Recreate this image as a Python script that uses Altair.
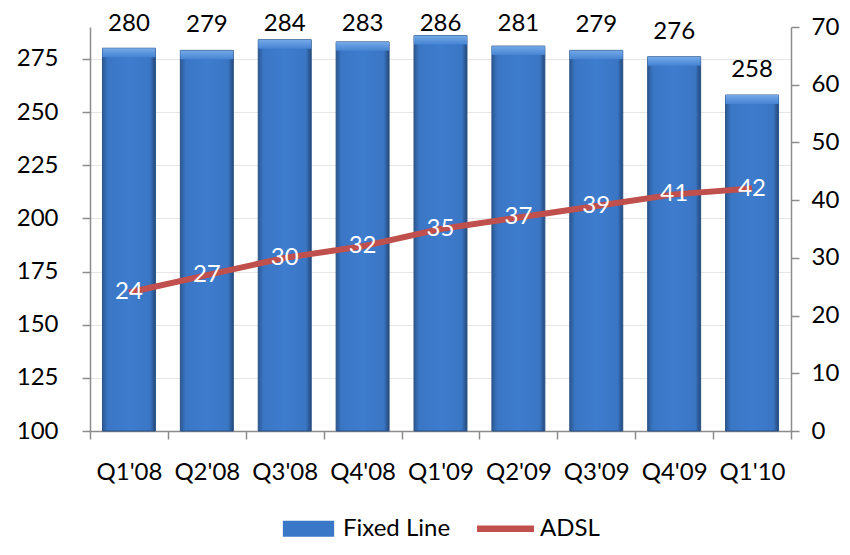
import altair as alt
import pandas as pd

quarters = ["Q1'08", "Q2'08", "Q3'08", "Q4'08", "Q1'09", "Q2'09", "Q3'09", "Q4'09", "Q1'10"]
fixed_line = [280, 279, 284, 283, 286, 281, 279, 276, 258]
adsl = [24, 27, 30, 32, 35, 37, 39, 41, 42]
left_ticks = [100, 125, 150, 175, 200, 225, 250, 275]
right_ticks = [0, 10, 20, 30, 40, 50, 60, 70]
series_names = ["Fixed Line", "ADSL"]
series_colors = ["#3b77c7", "#c0504d"]

df = pd.DataFrame({"q": quarters, "fixed": fixed_line, "adsl": adsl})
leg_df = pd.DataFrame({"s": series_names})

FONT = "Lato"
FS = 24
AX = "#8c8c8c"
BAR_W = alt.RelativeBandSize(0.68)

x_enc = alt.X("q:N", sort=quarters, title=None,
              scale=alt.Scale(paddingInner=0, paddingOuter=0),
              axis=alt.Axis(labelAngle=0, tickBand="extent", tickSize=8, tickColor=AX,
                            domainColor=AX, domainWidth=1.5, tickWidth=1.5,
                            labelFontSize=FS, labelFont=FONT, labelColor="#000",
                            labelPadding=21))

yL = alt.Y("fixed:Q", title=None,
           scale=alt.Scale(domain=[100, 290], zero=False, nice=False),
           axis=alt.Axis(values=left_ticks, tickSize=8, tickColor=AX, tickWidth=1.5,
                         domainColor=AX, domainWidth=1.5, grid=True, gridColor="#e6e6e6",
                         gridWidth=1.2, labelFontSize=FS, labelFont=FONT,
                         labelColor="#000", labelPadding=24))

bar_grad = alt.Gradient(
    gradient="linear", x1=0, x2=1, y1=0, y2=0,
    stops=[alt.GradientStop(color="#2a5893", offset=0),
           alt.GradientStop(color="#3a76c4", offset=0.1),
           alt.GradientStop(color="#3e7cce", offset=0.5),
           alt.GradientStop(color="#3a76c4", offset=0.9),
           alt.GradientStop(color="#24497a", offset=1)])

top_grad = alt.Gradient(
    gradient="linear", x1=0, x2=0, y1=0, y2=1,
    stops=[alt.GradientStop(color="#76aae8", offset=0),
           alt.GradientStop(color="#4583d2", offset=1)])

base = alt.Chart(df)

bars = base.mark_bar(color=bar_grad, stroke="#2b5286", strokeWidth=1, width=BAR_W).encode(
    x=x_enc, y=yL, y2=alt.datum(100))

bevel = base.transform_calculate(top2="datum.fixed - 4.2").mark_bar(
    color=top_grad, width=BAR_W).encode(
    x=alt.X("q:N", sort=quarters), y=alt.Y("fixed:Q"), y2=alt.Y2("top2:Q"))

bar_text = base.transform_calculate(ly="min(datum.fixed + 8.5, 288)").mark_text(
    baseline="alphabetic", fontSize=FS, font=FONT, color="#000").encode(
    x=alt.X("q:N", sort=quarters), y=alt.Y("ly:Q"), text=alt.Text("fixed:Q"))

left = alt.layer(bars, bevel, bar_text)

yR = alt.Y("adsl:Q", title=None,
           scale=alt.Scale(domain=[0, 70], nice=False),
           axis=alt.Axis(orient="right", values=right_ticks, tickSize=8, tickColor=AX,
                         tickWidth=1.5, domainColor=AX, domainWidth=1.5, grid=False,
                         labelFontSize=FS, labelFont=FONT, labelColor="#000",
                         labelPadding=12))

line = base.mark_line(color="#c0504d", strokeWidth=6).encode(
    x=alt.X("q:N", sort=quarters), y=yR)

line_text = base.mark_text(baseline="middle", fontSize=FS, font=FONT, color="#ffffff").encode(
    x=alt.X("q:N", sort=quarters), y=alt.Y("adsl:Q"), text=alt.Text("adsl:Q"))

legend_pts = alt.Chart(leg_df).mark_point(filled=True, opacity=0).encode(
    x=alt.value(0), y=alt.value(0),
    color=alt.Color("s:N", sort=series_names,
                    scale=alt.Scale(domain=series_names, range=series_colors),
                    legend=alt.Legend(title=None, orient="none", direction="horizontal",
                                      legendX=190, legendY=473, symbolSize=3249,
                                      symbolOpacity=1, symbolStrokeWidth=0,
                                      labelFontSize=FS, labelFont=FONT, labelColor="#000",
                                      labelOffset=6, columnPadding=26)),
    shape=alt.Shape("s:N", sort=series_names,
                    scale=alt.Scale(domain=series_names,
                                    range=["M-0.9,-0.28H0.9V0.28H-0.9Z",
                                           "M-1,-0.11H1V0.11H-1Z"]),
                    legend=None))

right = alt.layer(line, line_text, legend_pts)

chart = alt.layer(left, right).resolve_scale(y="independent").properties(
    width=701, height=404,
    autosize=alt.AutoSizeParams(type="none"),
    padding={"left": 82, "top": 19, "right": 51, "bottom": 112},
    background="#ffffff"
).configure_view(stroke=None)

chart.save("out.html", embed_options={"renderer": "svg", "actions": False})
